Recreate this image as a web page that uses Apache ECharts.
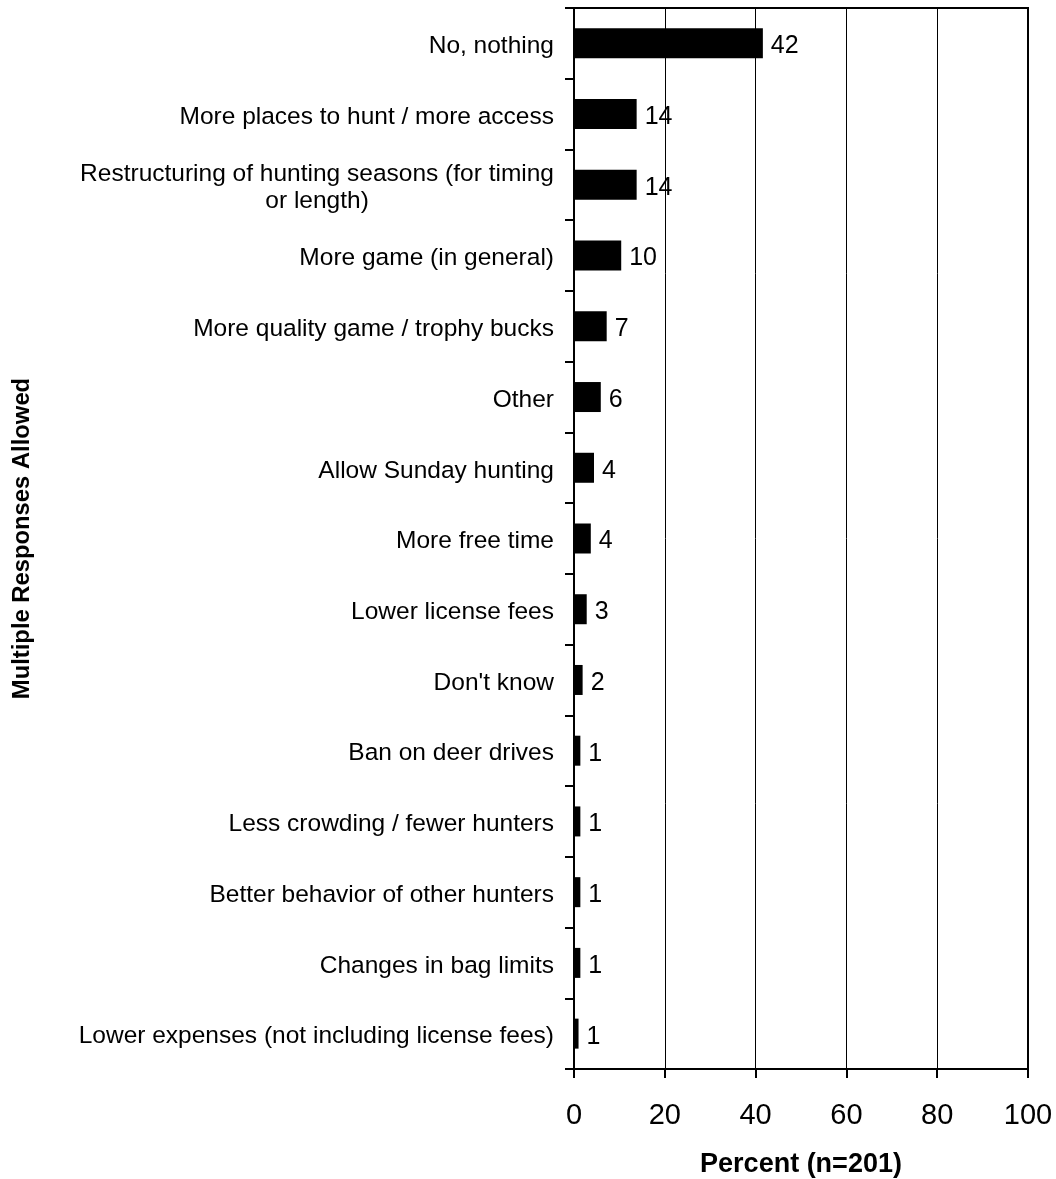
<!DOCTYPE html>
<html>
<head>
<meta charset="utf-8">
<script src="https://cdn.jsdelivr.net/npm/echarts@6/dist/echarts.min.js"></script>
<style>
html,body{margin:0;padding:0;background:#fff;}
#chart{width:1056px;height:1179px;}
</style>
</head>
<body>
<div id="chart"></div>
<script>
const categories = [
  "No, nothing",
  "More places to hunt / more access",
  "Restructuring of hunting seasons (for timing\nor length)",
  "More game (in general)",
  "More quality game / trophy bucks",
  "Other",
  "Allow Sunday hunting",
  "More free time",
  "Lower license fees",
  "Don't know",
  "Ban on deer drives",
  "Less crowding / fewer hunters",
  "Better behavior of other hunters",
  "Changes in bag limits",
  "Lower expenses (not including license fees)"
];
const values = [41.6, 13.8, 13.8, 10.4, 7.2, 5.9, 4.4, 3.7, 2.8, 1.9, 1.4, 1.4, 1.4, 1.4, 1.0];
const valueLabels = ["42", "14", "14", "10", "7", "6", "4", "4", "3", "2", "1", "1", "1", "1", "1"];
const xTicks = [0, 20, 40, 60, 80, 100];
const xTitle = "Percent (n=201)";
const yTitle = "Multiple Responses Allowed";

const FONT = "'Liberation Sans', Arial, Helvetica, sans-serif";
const chart = echarts.init(document.getElementById('chart'), null, {renderer: 'canvas'});
chart.setOption({
  backgroundColor: '#fff',
  animation: false,
  grid: {
    left: 574, right: 28, top: 8, bottom: 110,
    outerBoundsMode: 'none',
    containLabel: false,
    show: true, borderColor: '#000', borderWidth: 2, backgroundColor: 'transparent'
  },
  xAxis: {
    type: 'value',
    min: xTicks[0], max: xTicks[xTicks.length - 1], interval: 20,
    name: xTitle,
    nameLocation: 'middle',
    nameGap: 82,
    nameTextStyle: {fontFamily: FONT, fontSize: 27, fontWeight: 'bold', color: '#000'},
    axisLine: {show: true, lineStyle: {color: '#000', width: 2}},
    axisTick: {show: true, length: 9, lineStyle: {color: '#000', width: 2}},
    axisLabel: {fontFamily: FONT, fontSize: 29, color: '#000', margin: 32},
    splitLine: {show: true, lineStyle: {color: '#000', width: 1}}
  },
  yAxis: {
    type: 'category',
    inverse: true,
    data: categories,
    name: yTitle,
    nameLocation: 'middle',
    nameRotate: 90,
    nameGap: 540,
    nameTextStyle: {fontFamily: FONT, fontSize: 23.8, fontWeight: 'bold', color: '#000'},
    axisLine: {show: true, lineStyle: {color: '#000', width: 2}},
    axisTick: {show: true, length: 9, lineStyle: {color: '#000', width: 2}},
    axisLabel: {
      fontFamily: FONT, fontSize: 24.5, color: '#000', margin: 20, align: 'right',
      lineHeight: 27,
      padding: [6, 0, 0, 0],
      formatter: function (v) {
        if (v.indexOf('\n') >= 0) {
          return v.split('\n').map(function (l) { return '{c|' + l + '}'; }).join('\n');
        }
        return v;
      },
      rich: {c: {fontFamily: FONT, fontSize: 24.5, color: '#000', align: 'center', lineHeight: 27}}
    },
    splitLine: {show: false}
  },
  series: [{
    type: 'bar',
    data: values,
    barWidth: 30,
    itemStyle: {color: '#000'},
    label: {
      show: true, position: 'right', distance: 8,
      offset: [0, 3],
      fontFamily: FONT, fontSize: 25, color: '#000',
      formatter: function (p) { return valueLabels[p.dataIndex]; }
    }
  }]
});
</script>
</body>
</html>
